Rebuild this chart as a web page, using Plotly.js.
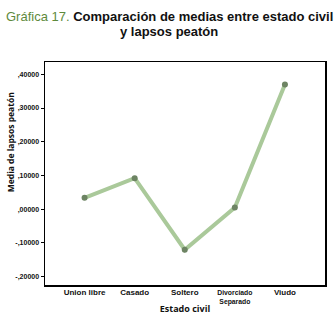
<!DOCTYPE html>
<html><head><meta charset="utf-8">
<script src="https://cdn.plot.ly/plotly-3.0.1.min.js"></script>
<style>html,body{margin:0;padding:0;background:#fff}</style>
</head><body>
<div id="chart" style="width:334px;height:315px"></div>
<script>
const categories = ["Union libre", "Casado", "Soltero", "Divorciado<br>Separado", "Viudo"];
const means = [0.034, 0.092, -0.120, 0.005, 0.370];
const yTickVals = [0.4, 0.3, 0.2, 0.1, 0, -0.1, -0.2];
const yTickText = [",40000", ",30000", ",20000", ",10000", ",00000", "-,10000", "-,20000"];

const font = "Liberation Sans Narrow, Arial Narrow, sans-serif";
const tickLabels = categories.map(c => c.includes("<br>") ? c : "<span style='font-size:8px'>" + c + "</span>");
const trace = {
  x: [0,1,2,3,4], y: means, type: "scatter", mode: "lines+markers",
  line: {color: "#aac99a", width: 4},
  marker: {color: "#6d8463", size: 6},
  hoverinfo: "skip", showlegend: false
};
const layout = {
  width: 334, height: 315,
  margin: {l: 45, r: 9, t: 62, b: 30},
  paper_bgcolor: "#fff", plot_bgcolor: "#fff",
  showlegend: false,
  xaxis: {
    range: [-0.79, 4.8], tickvals: [0,1,2,3,4], ticktext: tickLabels,
    showgrid: false, zeroline: false, showline: true, mirror: true,
    linecolor: "#000", linewidth: 1.5, ticks: "", ticklabelstandoff: 0,
    tickfont: {family: font, size: 6.8, color: "#111", weight: "bold"},
    title: {text: "<b>Estado civil</b>", font: {family: "Open Sans, sans-serif", size: 9, color: "#111"}, standoff: 1}
  },
  yaxis: {
    range: [-0.2246, 0.4365], tickvals: yTickVals, ticktext: yTickText,
    showgrid: false, zeroline: false, showline: true, mirror: true,
    linecolor: "#000", linewidth: 1.5, ticks: "outside", ticklen: 3, tickcolor: "#000",
    tickfont: {family: font, size: 7, color: "#111", weight: "bold"}
  },
  annotations: [
    {text: "<span style='color:#5e8a3c'>Gráfica 17.</span> <b>Comparación de medias entre estado civil</b>",
     xref: "paper", yref: "paper", x: 0.443, y: 1.245, xanchor: "center", yanchor: "top",
     showarrow: false, font: {family: font, size: 13, color: "#111"}},
    {text: "<b>y lapsos peatón</b>",
     xref: "paper", yref: "paper", x: 0.443, y: 1.178, xanchor: "center", yanchor: "top",
     showarrow: false, font: {family: font, size: 13, color: "#111"}},
    {text: "<b>Media de lapsos peatón</b>", textangle: -90,
     xref: "paper", yref: "paper", x: -0.125, y: 0.64, xanchor: "center", yanchor: "middle",
     showarrow: false, font: {family: "Open Sans, sans-serif", size: 8.5, color: "#111"}}
  ]
};
Plotly.newPlot("chart", [trace], layout, {displayModeBar: false, staticPlot: true});
</script>
</body></html>
